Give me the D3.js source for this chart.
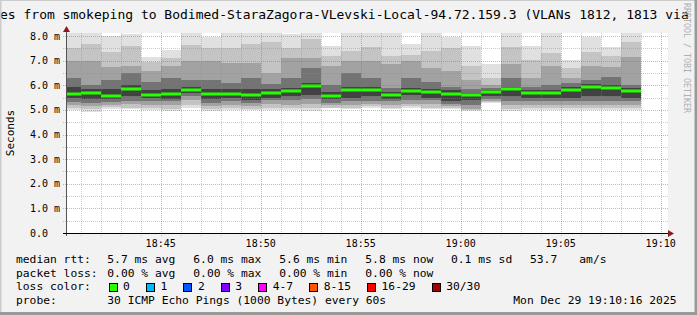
<!DOCTYPE html>
<html>
<head>
<meta charset="utf-8">
<script src="https://cdn.jsdelivr.net/npm/d3@7"></script>
<style>
html, body { margin: 0; padding: 0; background: #f2f2f2; }
svg { display: block; font-family: "DejaVu Sans Mono", monospace; }
</style>
</head>
<body>
<svg width="697" height="315"></svg>
<script>
// one column of smoke per minute
var minutes = ["18:40","18:41","18:42","18:43","18:44","18:45","18:46","18:47","18:48","18:49",
               "18:50","18:51","18:52","18:53","18:54","18:55","18:56","18:57","18:58","18:59",
               "19:00","19:01","19:02","19:03","19:04","19:05","19:06","19:07","19:08"]

// median rtt, ms
var median = [5.65,5.70,5.56,5.84,5.62,5.65,5.81,5.66,5.66,5.60,5.68,5.79,5.96,5.58,5.83,
              5.83,5.60,5.79,5.72,5.66,5.60,5.74,5.84,5.68,5.68,5.83,5.92,5.89,5.79]

// smoke edges, ms (outer pair first, inner pair last)
var smokeMax = [8.3,8.3,8.0,8.1,7.15,7.45,8.3,7.95,8.3,8.3,8.3,8.1,8.3,7.6,8.3,8.3,8.3,7.7,8.3,7.95,7.6,6.85,8.3,7.6,8.3,7.05,7.95,7.55,8.3]
var smokeHi2 = [7.5,7.7,7.35,7.6,6.95,7.1,7.65,7.5,7.5,7.7,7.75,7.5,7.9,7.2,7.4,7.55,7.2,7.25,7.4,7.5,6.8,6.3,7.55,7.05,7.3,6.7,7.35,7.2,7.75]
var smokeHi3 = [7.0,7.0,6.75,6.8,6.6,6.8,7.0,7.0,6.9,6.9,6.5,7.1,7.1,6.8,7.0,7.0,6.85,7.0,6.7,6.6,6.2,6.0,6.85,6.3,6.8,6.3,6.8,6.75,7.15]
var smokeHi4 = [6.3,6.0,6.2,6.5,6.15,6.3,6.2,6.2,6.1,6.3,6.05,6.3,6.7,6.0,6.5,6.3,5.9,6.3,6.15,5.95,5.85,5.9,6.3,5.95,6.0,6.1,6.2,6.35,6.0]
var smokeHi5 = [5.95,5.85,5.85,6.0,5.8,5.85,5.95,5.85,5.85,5.85,5.85,5.9,6.1,5.75,5.95,5.95,5.75,5.9,5.85,5.8,5.7,5.8,5.95,5.8,5.8,5.95,6.05,6.0,5.9]
var smokeLo5 = [5.48,5.45,5.45,5.55,5.48,5.45,5.7,5.45,5.5,5.4,5.5,5.55,5.6,5.45,5.5,5.55,5.45,5.6,5.5,5.35,5.4,5.55,5.55,5.5,5.5,5.5,5.55,5.55,5.5]
var smokeLo4 = [5.33,5.3,5.33,5.35,5.35,5.35,5.55,5.3,5.35,5.3,5.4,5.4,5.45,5.3,5.35,5.35,5.35,5.4,5.4,5.25,5.2,5.45,5.35,5.35,5.35,5.35,5.35,5.35,5.35]
var smokeLo3 = [5.2,5.15,5.22,5.25,5.2,5.2,5.4,5.15,5.2,5.15,5.25,5.2,5.25,5.2,5.2,5.25,5.2,5.25,5.25,5.15,5.05,5.38,5.2,5.2,5.2,5.2,5.2,5.2,5.2]
var smokeLo2 = [5.08,5.03,5.12,5.1,5.08,5.05,5.2,5.05,5.08,5.05,5.1,5.08,5.1,5.1,5.1,5.15,5.1,5.15,5.1,5.1,5.0,5.32,5.05,5.1,5.1,5.1,5.1,5.1,5.1]
var smokeMin = [4.98,4.92,5.05,5.05,5.0,4.97,5.07,4.95,5.0,5.0,5.0,5.0,4.97,5.08,5.05,5.1,5.05,5.1,5.05,5.05,4.97,5.28,4.97,5.0,5.0,5.0,5.02,5.0,5.0]

var smokeColors = ["#e0e0e0","#c4c4c4","#a2a2a2","#747474","#424242"]

var yTicks = [0,1,2,3,4,5,6,7,8]
var yTickLabels = ["0.0","1.0 m","2.0 m","3.0 m","4.0 m","5.0 m","6.0 m","7.0 m","8.0 m"]

var lossLabels = ["0","1","2","3","4-7","8-15","16-29","30/30"]
var lossColors = ["#26ff00","#00b8ff","#0059ff","#7e00ff","#ff00ff","#ff5500","#ff0000","#a10000"]

var rttStats = ["5.7 ms avg","6.0 ms max","5.6 ms min","5.8 ms now","0.1 ms sd","53.7","am/s"]
var lossStats = ["0.00 % avg","0.00 % max","0.00 % min","0.00 % now"]

var title = "es from smokeping to Bodimed-StaraZagora-VLevski-Local-94.72.159.3 (VLANs 1812, 1813 via"
var probeText = "30 ICMP Echo Pings (1000 Bytes) every 60s"
var stamp = "Mon Dec 29 19:10:16 2025"

var svg = d3.select("svg")
var pl = 66, pr = 668, pt = 33, pb = 233

var x = d3.scaleTime()
    .domain([new Date(2025,11,29,18,40,16), new Date(2025,11,29,19,10,22)])
    .range([pl, pr])
var y = d3.scaleLinear().domain([0, 8.13]).range([pb, pt])
var parse = d3.timeParse("%Y-%m-%d %H:%M")

var cols = minutes.map((m, i) => {
    var t = parse("2025-12-29 " + m)
    return {i: i, x0: Math.max(pl, Math.round(x(t))), x1: Math.round(x(d3.timeMinute.offset(t, 1)))}
})

// frame + canvas
svg.append("rect").attr("width", 697).attr("height", 315).attr("fill", "#f2f2f2")
svg.append("rect").attr("x", pl).attr("y", pt).attr("width", pr - pl).attr("height", pb - pt).attr("fill", "#fff")

svg.append("defs").append("clipPath").attr("id", "cv")
    .append("rect").attr("x", pl).attr("y", pt).attr("width", pr - pl).attr("height", pb - pt)

// smoke
var levels = [[smokeMin, smokeMax], [smokeLo2, smokeHi2], [smokeLo3, smokeHi3], [smokeLo4, smokeHi4], [smokeLo5, smokeHi5]]
var gSmoke = svg.append("g").attr("clip-path", "url(#cv)")
levels.forEach((lv, k) => {
    gSmoke.append("g").selectAll("rect")
        .data(cols)
        .enter()
        .append("rect")
        .attr("x", d => d.x0)
        .attr("width", d => d.x1 - d.x0)
        .attr("y", d => y(lv[1][d.i]))
        .attr("height", d => y(lv[0][d.i]) - y(lv[1][d.i]))
        .attr("fill", smokeColors[k])
        .attr("shape-rendering", "crispEdges")
})

// median, coloured by loss (all 0)
gSmoke.append("g").selectAll("rect")
    .data(cols)
    .enter()
    .append("rect")
    .attr("x", d => d.x0)
    .attr("width", d => d.x1 - d.x0)
    .attr("y", d => Math.round(y(median[d.i])) - 1.5)
    .attr("height", 3)
    .attr("fill", lossColors[0])

// grid on top
var minorY = d3.range(0.5, 8.1, 1)
var gGrid = svg.append("g").attr("stroke-dasharray", "1,1").attr("shape-rendering", "crispEdges")
gGrid.selectAll("line.hmin").data(minorY).enter().append("line")
    .attr("x1", pl - 3).attr("x2", pr).attr("y1", d => Math.round(y(d)) + 0.5).attr("y2", d => Math.round(y(d)) + 0.5)
    .attr("stroke", "rgba(140,140,140,0.45)")
var minuteTicks = x.ticks(d3.timeMinute.every(1)).filter(t => t.getMinutes() % 5 != 0)
gGrid.selectAll("line.vmin").data(minuteTicks).enter().append("line")
    .attr("y1", pt).attr("y2", pb + 3).attr("x1", d => Math.round(x(d)) + 0.5).attr("x2", d => Math.round(x(d)) + 0.5)
    .attr("stroke", "rgba(140,140,140,0.45)")
gGrid.selectAll("line.hmaj").data(yTicks.slice(1)).enter().append("line")
    .attr("x1", pl - 3).attr("x2", pr).attr("y1", d => Math.round(y(d)) + 0.5).attr("y2", d => Math.round(y(d)) + 0.5)
    .attr("stroke", "rgba(225,60,60,0.45)")
var majorX = x.ticks(d3.timeMinute.every(5))
gGrid.selectAll("line.vmaj").data(majorX).enter().append("line")
    .attr("y1", pt).attr("y2", pb + 3).attr("x1", d => Math.round(x(d)) + 0.5).attr("x2", d => Math.round(x(d)) + 0.5)
    .attr("stroke", "rgba(225,60,60,0.45)")

// axes
svg.append("line").attr("x1", pl + 0.5).attr("x2", pl + 0.5).attr("y1", pt - 2).attr("y2", pb + 3)
    .attr("stroke", "#555").attr("shape-rendering", "crispEdges")
svg.append("line").attr("x1", pl - 3).attr("x2", pr + 1).attr("y1", pb + 0.5).attr("y2", pb + 0.5)
    .attr("stroke", "#000").attr("shape-rendering", "crispEdges")
svg.append("path").attr("d", `M${pl + 0.5},${pt - 7} L${pl - 3},${pt - 1} L${pl + 4},${pt - 1} Z`).attr("fill", "#8b1c1c")
svg.append("path").attr("d", `M${pr + 6},${pb + 0.5} L${pr},${pb - 3} L${pr},${pb + 4} Z`).attr("fill", "#8b1c1c")

// tick labels
svg.append("g").selectAll("text").data(yTicks).enter().append("text")
    .attr("x", 30).attr("y", d => y(d) + 3.5)
    .style("font-size", "10px").attr("fill", "#000")
    .text((d, i) => yTickLabels[i])
svg.append("g").selectAll("text").data(majorX).enter().append("text")
    .attr("x", d => x(d)).attr("y", 246.5)
    .style("text-anchor", "middle").style("font-size", "10px")
    .text(d => d3.timeFormat("%H:%M")(d))

svg.append("text").attr("transform", `translate(14,${(pt + pb) / 2}) rotate(-90)`)
    .style("text-anchor", "middle").style("font-size", "11px").text("Seconds")

// title + watermark
svg.append("text").attr("x", 0).attr("y", 18.5).style("font-size", "13px").text(title)
svg.append("text").attr("transform", "translate(683.5,3) rotate(90)")
    .style("font-size", "8.3px").attr("fill", "#b0b0b0").text("RRDTOOL / TOBI OETIKER")

// legend
var fs = "11.3px"
var rows = [263, 276.7, 290.3, 304]
function txt(xx, yy, s) {
    return svg.append("text").attr("x", xx).attr("y", yy).style("font-size", fs).style("white-space", "pre").text(s)
}
txt(16, rows[0], "median rtt:")
var rttX = [107.3, 193.3, 279.3, 365.3, 451, 530, 579.3]
rttStats.forEach((s, i) => txt(rttX[i], rows[0], s))
txt(16, rows[1], "packet loss:")
lossStats.forEach((s, i) => txt(rttX[i], rows[1], s))
txt(16, rows[2], "loss color:")
var bx = 108.5
lossLabels.forEach((s, i) => {
    svg.append("rect").attr("x", Math.round(bx) + 0.5).attr("y", 283.5).attr("width", 8).attr("height", 8)
        .attr("fill", lossColors[i]).attr("stroke", "#000")
    var t = txt(bx + 14.6, rows[2], s)
    bx = bx + 14.6 + t.node().getComputedTextLength() + 16
})
txt(16, rows[3], "probe:")
txt(107.3, rows[3], probeText)
txt(513.3, rows[3], stamp)

// border
svg.append("rect").attr("x", 0).attr("y", 0).attr("width", 697).attr("height", 1).attr("fill", "#cbcbcb")
svg.append("rect").attr("x", 0).attr("y", 0).attr("width", 1.5).attr("height", 315).attr("fill", "#cbcbcb")
svg.append("rect").attr("x", 0).attr("y", 312).attr("width", 697).attr("height", 3).attr("fill", "#999")
svg.append("rect").attr("x", 694.5).attr("y", 0).attr("width", 2.5).attr("height", 315).attr("fill", "#999")
</script>
</body>
</html>
